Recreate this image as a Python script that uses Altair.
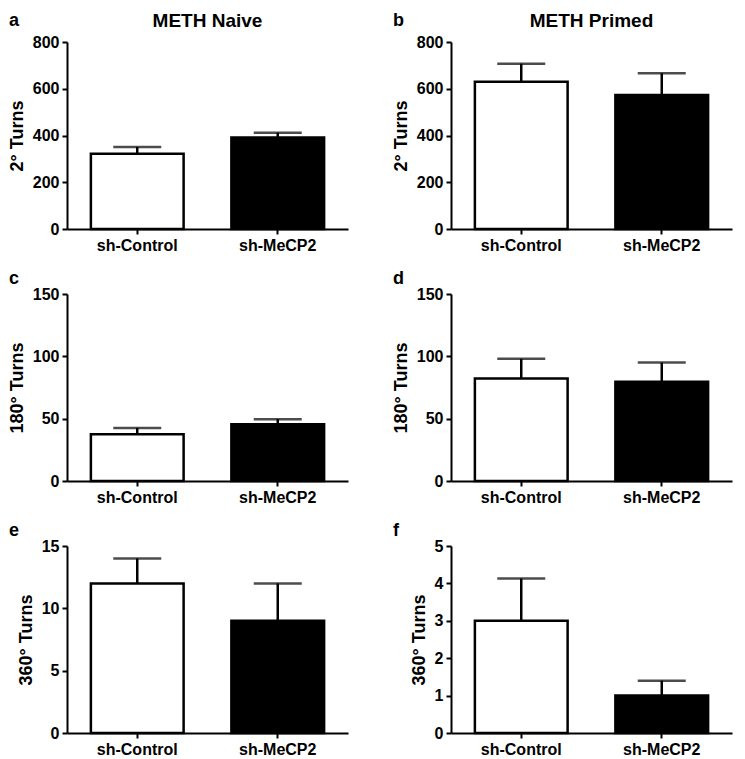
import altair as alt
import pandas as pd

groups = ["sh-Control", "sh-MeCP2"]
letters = ["a", "b", "c", "d", "e", "f"]
col_titles = ["METH Naive", "METH Primed"]
y_titles = ["2° Turns", "2° Turns", "180° Turns", "180° Turns", "360° Turns", "360° Turns"]
y_max = [800, 800, 150, 150, 15, 5]
y_step = [200, 200, 50, 50, 5, 1]
means = [[322, 391], [630, 573], [37.6, 45.6], [82.3, 79.6], [12, 9], [3, 1]]
sems = [[29, 21], [77, 93], [5, 4], [15.7, 15.4], [2, 3], [1.13, 0.4]]

FONT = "Liberation Sans"
W, H = 281, 187


def panel(i):
    df = pd.DataFrame({
        "group": groups,
        "mean": means[i],
        "top": [m + s for m, s in zip(means[i], sems[i])],
    })
    xenc = alt.X("group:N", sort=groups, title=None,
                 scale=alt.Scale(paddingInner=0.34, paddingOuter=0.17),
                 axis=alt.Axis(labelAngle=0, labelPadding=3))
    yscale = alt.Scale(domain=[0, y_max[i]], nice=False)
    tvals = list(range(0, y_max[i] + 1, y_step[i]))
    yaxis = alt.Axis(values=tvals, tickCount=len(tvals), titlePadding=6,
                     labelPadding=3, labelOverlap=False)
    base = alt.Chart(df)
    bars = base.mark_bar(stroke="black", strokeWidth=2.5).encode(
        x=xenc,
        y=alt.Y("mean:Q", scale=yscale, title=y_titles[i], axis=yaxis),
        fill=alt.Fill("group:N", scale=alt.Scale(domain=groups, range=["white", "black"]),
                      legend=None),
    )
    err = base.mark_rule(strokeWidth=2.5, color="black").encode(
        x=xenc, y=alt.Y("mean:Q", scale=yscale, title=y_titles[i], axis=yaxis),
        y2="top:Q")
    cap = base.mark_tick(size=48, thickness=2.5, color="black", orient="horizontal").encode(
        x=xenc, y=alt.Y("top:Q", scale=yscale, title=y_titles[i], axis=yaxis))
    layers = [bars, err, cap]
    row = i // 2
    ly = -21 if row == 0 else -15
    letter = alt.Chart(pd.DataFrame({"t": [letters[i]]})).mark_text(
        font=FONT, fontSize=18, fontWeight="bold", color="black", baseline="middle",
        align="left"
    ).encode(text="t:N", x=alt.value(-58), y=alt.value(ly))
    layers.append(letter)
    if row == 0:
        t = alt.Chart(pd.DataFrame({"t": [col_titles[i]]})).mark_text(
            font=FONT, fontSize=19, fontWeight="bold", color="black", baseline="middle"
        ).encode(text="t:N", x=alt.value(W / 2), y=alt.value(-21))
        layers.append(t)
    return alt.layer(*layers).properties(width=W, height=H)


chart = alt.concat(*[panel(i) for i in range(6)], columns=2,
                   spacing={"row": 17, "column": 44}).properties(
    padding={"left": 0, "top": 4, "right": 5, "bottom": 0}
).configure_view(stroke=None).configure_axis(
    domainColor="black", domainWidth=2, tickColor="black", tickWidth=2, tickSize=5,
    labelFont=FONT, labelFontWeight="bold", labelFontSize=16, labelColor="black",
    titleFont=FONT, titleFontWeight="bold", titleFontSize=18, titleColor="black",
    grid=False,
)

chart.save("out.html", embed_options={"renderer": "svg", "actions": False})
